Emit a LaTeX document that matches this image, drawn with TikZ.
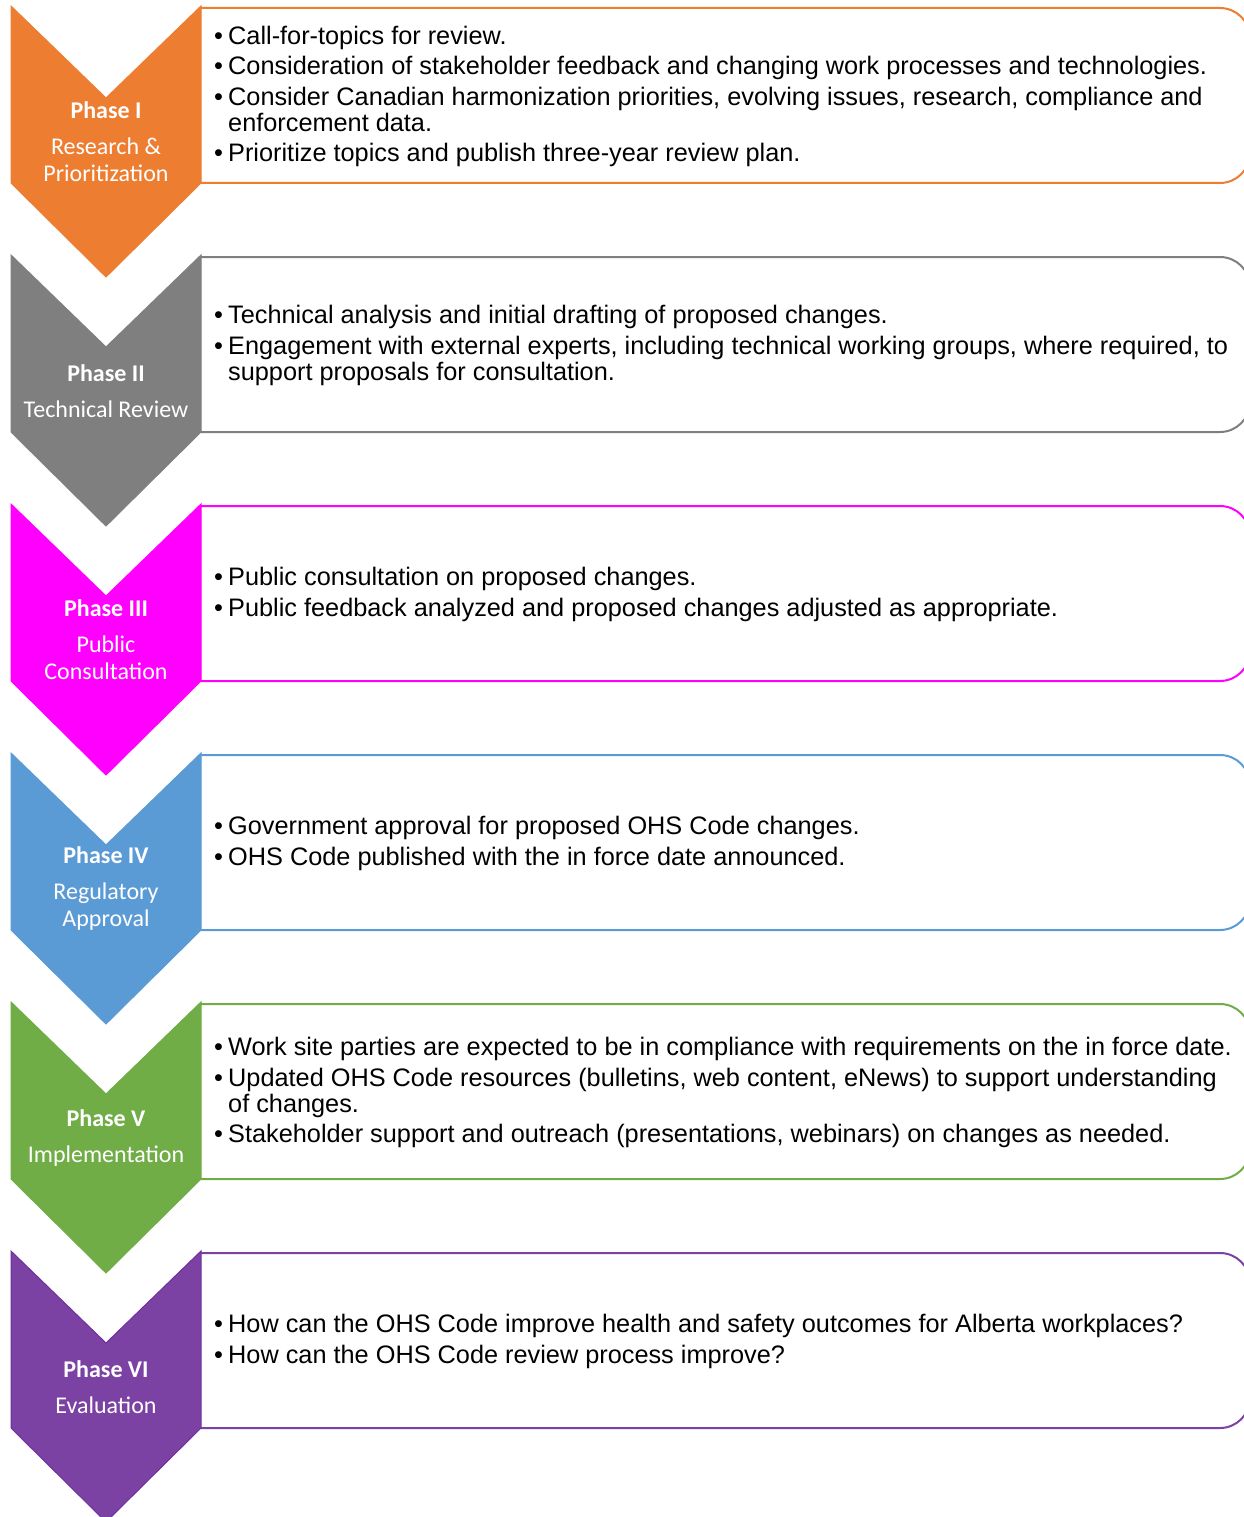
\documentclass[tikz,border=0pt]{standalone}
\usepackage{fontspec}
\setmainfont{Liberation Sans}
\newfontfamily\calib{Carlito}
\definecolor{cOrange}{HTML}{ED7D31}
\definecolor{cGray}{HTML}{7F7F7F}
\definecolor{cMagenta}{HTML}{FF00FF}
\definecolor{cBlue}{HTML}{5B9BD5}
\definecolor{cGreen}{HTML}{70AD47}
\definecolor{cPurple}{HTML}{7B42A3}
\definecolor{cPurpleDark}{HTML}{7030A0}
\newcommand\bl[1]{\makebox[14pt][l]{\textbullet}#1}
\newcommand\cont[1]{\hspace*{14pt}#1}
\newcommand\phaseblock[6]{%
  % #1 index, #2 colour, #3 outline colour, #4 title, #5 subtitle, #6 body
  \pgfmathsetmacro\oy{249*#1}%
  \begin{scope}[yshift=-\oy pt]
    \fill[white] (201,8) rectangle (1243,183);
    \draw[boxline, draw=#2] (201,8) -- (1220,8)
      .. controls (1236.5,8) and (1250,21.5) .. (1250,38) -- (1250,153)
      .. controls (1250,169.5) and (1236.5,183) .. (1220,183) -- (201,183);
    \filldraw[fill=#2, draw=#3, line width=1pt, line join=miter]
      (11,6) -- (106,98) -- (201,6) -- (201,183) -- (106,277) -- (11,183) -- cycle;
    \node[chevtext] (title#1) at (106,142) {{\bfseries #4}\\[9pt]#5};
    \node[bodytext] (body#1) at (214,96.5) {#6};
  \end{scope}%
}
\tikzset{
  boxline/.style={line width=2pt, line cap=round},
  chevtext/.style={align=center, text=white, inner sep=0pt,
    font=\calib\fontsize{24}{27}\selectfont},
  bodytext/.style={anchor=west, align=left, inner sep=0pt, text=black,
    font=\fontsize{25.3}{26}\selectfont},
}
\begin{document}
\begin{tikzpicture}[x=1pt,y=-1pt]
\useasboundingbox (0,0) rectangle (1243,1517);
\fill[white] (0,0) rectangle (1243,1517);
\phaseblock{0}{cOrange}{cOrange}{Phase I}{Research \&\\Prioritization}{%
\bl{Call-for-topics for review.}\\[4.5pt]
\bl{Consideration of stakeholder feedback and changing work processes and technologies.}\\[4.5pt]
\bl{Consider Canadian harmonization priorities, evolving issues, research, compliance and}\\
\cont{enforcement data.}\\[4.5pt]
\bl{Prioritize topics and publish three-year review plan.}}
\phaseblock{1}{cGray}{cGray}{Phase II}{Technical Review}{%
\bl{Technical analysis and initial drafting of proposed changes.}\\[4.5pt]
\bl{Engagement with external experts, including technical working groups, where required, to}\\
\cont{support proposals for consultation.}}
\phaseblock{2}{cMagenta}{cMagenta}{Phase III}{Public\\Consultation}{%
\bl{Public consultation on proposed changes.}\\[4.5pt]
\bl{Public feedback analyzed and proposed changes adjusted as appropriate.}}
\phaseblock{3}{cBlue}{cBlue}{Phase IV}{Regulatory\\Approval}{%
\bl{Government approval for proposed OHS Code changes.}\\[4.5pt]
\bl{OHS Code published with the in force date announced.}}
\phaseblock{4}{cGreen}{cGreen}{Phase V}{Implementation}{%
\bl{Work site parties are expected to be in compliance with requirements on the in force date.}\\[4.5pt]
\bl{Updated OHS Code resources (bulletins, web content, eNews) to support understanding}\\
\cont{of changes.}\\[4.5pt]
\bl{Stakeholder support and outreach (presentations, webinars) on changes as needed.}}
\phaseblock{5}{cPurple}{cPurpleDark}{Phase VI}{Evaluation}{%
\bl{How can the OHS Code improve health and safety outcomes for Alberta workplaces?}\\[4.5pt]
\bl{How can the OHS Code review process improve?}}
\end{tikzpicture}
\end{document}
